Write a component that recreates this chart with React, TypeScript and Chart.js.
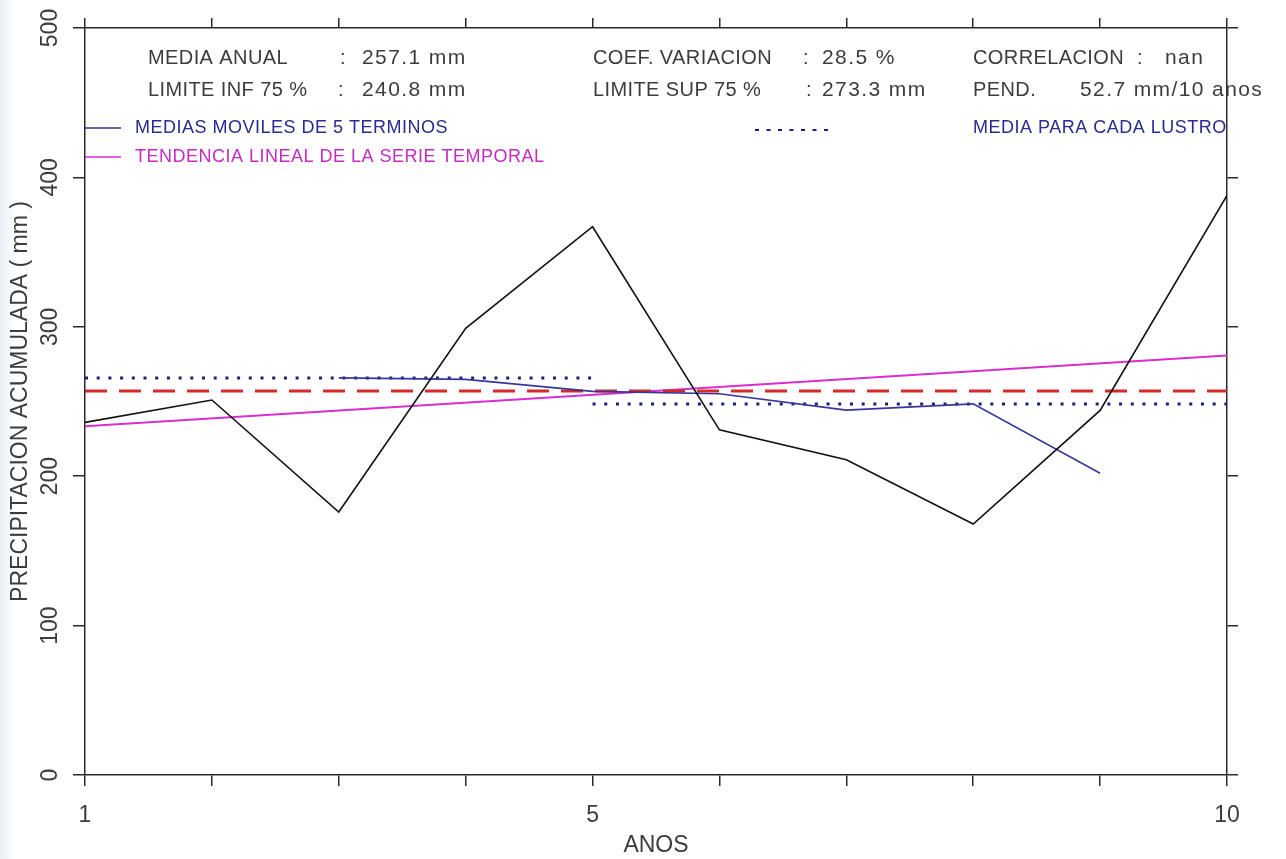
import { useEffect, useRef } from "react";
import { Chart, registerables } from "chart.js";

Chart.register(...registerables);

// Annual accumulated precipitation (mm) per year index
const YEARS = [1, 2, 3, 4, 5, 6, 7, 8, 9, 10];
const ANNUAL_MM = [236, 251, 176, 299, 367, 231, 211, 168, 244, 388];

// 5-term moving average
const MOVING_YEARS = [3, 4, 5, 6, 7, 8, 9];
const MOVING_MM = [265.8, 264.8, 256.8, 255.2, 244.2, 248.4, 202];

// Linear trend end points
const TREND_YEARS = [1, 10];
const TREND_MM = [233.4, 280.8];

// Annual mean
const MEAN_YEARS = [1, 10];
const MEAN_MM = 257.1;

// Mean for each five-year period (lustro)
const LUSTRO1_YEARS = [1, 5];
const LUSTRO2_YEARS = [5, 10];
const LUSTRO_MM = [265.8, 248.4];

const Y_TICKS = [0, 100, 200, 300, 400, 500];
const X_LABELED = [1, 5, 10];

const STAT_LABELS = [
  "MEDIA ANUAL",
  "LIMITE INF 75 %",
  "COEF. VARIACION",
  "LIMITE SUP 75 %",
  "CORRELACION",
  "PEND.",
];
const STAT_VALUES = ["257.1 mm", "240.8 mm", "28.5 %", "273.3 mm", "nan", "52.7 mm/10 anos"];

const LEGEND_MOVING = "MEDIAS MOVILES DE 5 TERMINOS";
const LEGEND_TREND = "TENDENCIA LINEAL DE LA SERIE TEMPORAL";
const LEGEND_LUSTRO = "MEDIA PARA CADA LUSTRO";

const FONT = '"Liberation Sans", Arial, sans-serif';
const TEXT = "#3c3c3c";
const AXIS = "#2a2a2a";
const BLACK = "#111111";
const BLUE = "#36369c";
const NAVY = "#1e1e78";
const MAGENTA = "#d82ed2";
const RED = "#d42a2a";

const pts = (xs: number[], ys: number[]) => xs.map((x, i) => ({ x, y: ys[i] }));
const flat = (xs: number[], v: number) => xs.map((x) => ({ x, y: v }));

// [stat index, labelX, colonX (or null), valueX, rowY]
const STAT_LAYOUT: [number, number, number | null, number, number][] = [
  [0, 148, 340, 362, 58],
  [1, 148, 338, 362, 90],
  [2, 593, 803, 822, 58],
  [3, 593, 806, 822, 90],
  [4, 973, 1137, 1165, 58],
  [5, 973, null, 1080, 90],
];

const overlay = {
  id: "overlay",
  afterDraw(chart: any) {
    const ctx: any = chart.ctx;
    const ys = chart.scales.y;
    ctx.save();

    // vertical tick labels on the left axis
    ctx.font = `23px ${FONT}`;
    ctx.fillStyle = TEXT;
    ctx.textAlign = "center";
    ctx.textBaseline = "middle";
    Y_TICKS.forEach((v) => {
      const py = ys.getPixelForValue(v);
      ctx.save();
      ctx.translate(51, py);
      ctx.rotate(-Math.PI / 2);
      ctx.fillText(String(v), 0, 0);
      ctx.restore();
    });

    // statistics block
    ctx.textAlign = "left";
    ctx.fillStyle = TEXT;
    STAT_LAYOUT.forEach(([i, lx, cx, vx, ry]) => {
      ctx.font = `20px ${FONT}`;
      ctx.letterSpacing = "0.4px";
      ctx.fillText(STAT_LABELS[i], lx, ry);
      if (cx !== null) ctx.fillText(":", cx, ry);
      ctx.font = `21px ${FONT}`;
      ctx.letterSpacing = "1.4px";
      ctx.fillText(STAT_VALUES[i], vx, ry);
    });
    ctx.letterSpacing = "0.5px";

    // legend
    ctx.font = `18px ${FONT}`;
    ctx.lineCap = "butt";
    ctx.lineWidth = 1.5;
    ctx.strokeStyle = BLUE;
    ctx.beginPath();
    ctx.moveTo(85, 128);
    ctx.lineTo(121, 128);
    ctx.stroke();
    ctx.fillStyle = "#2a2a92";
    ctx.fillText(LEGEND_MOVING, 135, 128);

    ctx.strokeStyle = MAGENTA;
    ctx.beginPath();
    ctx.moveTo(85, 157);
    ctx.lineTo(121, 157);
    ctx.stroke();
    ctx.fillStyle = "#c42cc0";
    ctx.fillText(LEGEND_TREND, 135, 157);

    ctx.strokeStyle = NAVY;
    ctx.lineWidth = 2;
    ctx.setLineDash([4, 7.5]);
    ctx.beginPath();
    ctx.moveTo(755, 130);
    ctx.lineTo(834, 130);
    ctx.stroke();
    ctx.setLineDash([]);
    ctx.fillStyle = "#2a2a92";
    ctx.fillText(LEGEND_LUSTRO, 973, 128);

    ctx.letterSpacing = "0px";
    ctx.restore();
  },
};

export default function App() {
  const ref = useRef<HTMLCanvasElement | null>(null);

  useEffect(() => {
    if (!ref.current) return;
    const chart = new Chart(ref.current, {
      type: "line",
      data: {
        datasets: [
          {
            label: "annual",
            data: pts(YEARS, ANNUAL_MM),
            borderColor: BLACK,
            borderWidth: 1.6,
            pointRadius: 0,
            order: 0,
          },
          {
            label: "moving",
            data: pts(MOVING_YEARS, MOVING_MM),
            borderColor: BLUE,
            borderWidth: 1.6,
            pointRadius: 0,
            order: 1,
          },
          {
            label: "trend",
            data: pts(TREND_YEARS, TREND_MM),
            borderColor: MAGENTA,
            borderWidth: 2,
            pointRadius: 0,
            order: 3,
          },
          {
            label: "mean",
            data: flat(MEAN_YEARS, MEAN_MM),
            borderColor: RED,
            borderWidth: 3,
            borderDash: [22, 12],
            borderCapStyle: "butt",
            pointRadius: 0,
            order: 2,
          },
          {
            label: "lustro1",
            data: flat(LUSTRO1_YEARS, LUSTRO_MM[0]),
            borderColor: NAVY,
            borderWidth: 3,
            borderDash: [3, 8.7],
            borderCapStyle: "butt",
            pointRadius: 0,
            order: 4,
          },
          {
            label: "lustro2",
            data: flat(LUSTRO2_YEARS, LUSTRO_MM[1]),
            borderColor: NAVY,
            borderWidth: 3,
            borderDash: [3, 8.7],
            borderCapStyle: "butt",
            pointRadius: 0,
            order: 4,
          },
        ],
      },
      options: {
        animation: false,
        responsive: false,
        devicePixelRatio: 1,
        layout: { padding: 0 },
        plugins: {
          legend: { display: false },
          tooltip: { enabled: false },
        },
        scales: {
          x: {
            type: "linear",
            position: "bottom",
            min: 1,
            max: 10,
            afterFit: (s: any) => {
              s.height = 84;
            },
            ticks: {
              stepSize: 1,
              autoSkip: false,
              maxRotation: 0,
              padding: 16,
              color: TEXT,
              font: { family: FONT, size: 23 },
              callback: (v: any) => (X_LABELED.includes(Number(v)) ? String(v) : ""),
            },
            grid: { drawOnChartArea: false, tickLength: 11, color: AXIS, lineWidth: 1.5 },
            border: { color: AXIS, width: 1.5 },
            title: {
              display: true,
              text: "ANOS",
              color: TEXT,
              font: { family: FONT, size: 23 },
              padding: { top: 0, bottom: 0 },
            },
          },
          xTop: {
            type: "linear",
            position: "top",
            min: 1,
            max: 10,
            afterFit: (s: any) => {
              s.height = 28;
            },
            ticks: { stepSize: 1, display: false },
            grid: { drawOnChartArea: false, tickLength: 10, color: AXIS, lineWidth: 1.5 },
            border: { color: AXIS, width: 1.5 },
          },
          y: {
            type: "linear",
            position: "left",
            min: 0,
            max: 500,
            afterFit: (s: any) => {
              s.width = 85;
            },
            ticks: { stepSize: 100, display: false },
            grid: { drawOnChartArea: false, tickLength: 12, color: AXIS, lineWidth: 1.5 },
            border: { color: AXIS, width: 1.5 },
            title: {
              display: true,
              text: "PRECIPITACION ACUMULADA ( mm )",
              color: TEXT,
              font: { family: FONT, size: 23 },
              padding: { top: 7, bottom: 0 },
            },
          },
          yRight: {
            type: "linear",
            position: "right",
            min: 0,
            max: 500,
            afterFit: (s: any) => {
              s.width = 59;
            },
            ticks: { stepSize: 100, display: false },
            grid: { drawOnChartArea: false, tickLength: 11, color: AXIS, lineWidth: 1.5 },
            border: { color: AXIS, width: 1.5 },
          },
        },
      },
      plugins: [overlay],
    } as any);
    return () => chart.destroy();
  }, []);

  return (
    <div
      style={{
        position: "fixed",
        left: 0,
        top: 0,
        width: 1286,
        height: 859,
        background: "linear-gradient(to right, #e9f0f4 0px, #ffffff 16px)",
      }}
    >
      <canvas ref={ref} width={1286} height={859} style={{ display: "block" }} />
    </div>
  );
}
